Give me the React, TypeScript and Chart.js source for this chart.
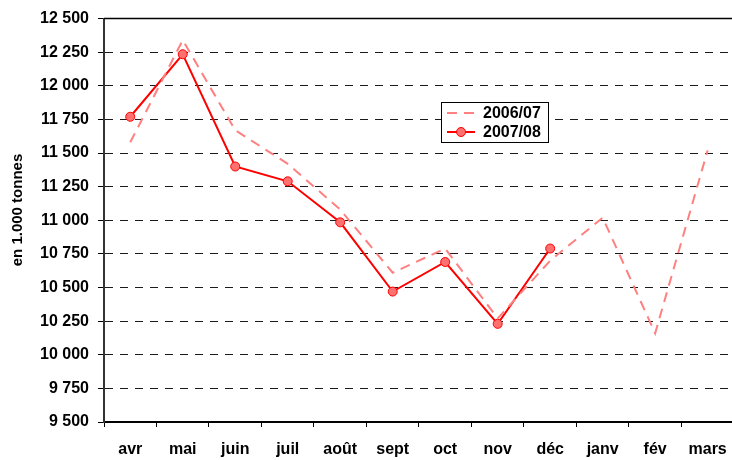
import React, { useEffect, useRef } from 'react';
import { Chart, registerables } from 'chart.js';

Chart.register(...registerables);

const months = ['avr', 'mai', 'juin', 'juil', 'août', 'sept', 'oct', 'nov', 'déc', 'janv', 'fév', 'mars'];
const series0607 = [11580, 12340, 11670, 11420, 11080, 10610, 10790, 10270, 10700, 11020, 10160, 11520];
const series0708 = [11770, 12235, 11400, 11290, 10985, 10470, 10690, 10230, 10790, null, null, null];
const seriesNames = ['2006/07', '2007/08'];
const axisTitle = 'en 1.000 tonnes';
const yMin = 9500;
const yMax = 12500;
const yStep = 250;

const FONT = '"Liberation Sans", Arial, Helvetica, sans-serif';

function fmt(v: number): string {
  return String(Math.round(v)).replace(/\B(?=(\d{3})+(?!\d))/g, ' ');
}

const decorPlugin = {
  id: 'decor',
  afterDraw(chart: any) {
    const { ctx, chartArea } = chart;
    ctx.save();
    // top border of plot area
    ctx.strokeStyle = '#000';
    ctx.lineWidth = 1.5;
    ctx.beginPath();
    ctx.moveTo(chartArea.left, chartArea.top);
    ctx.lineTo(chartArea.right, chartArea.top);
    ctx.stroke();

    // axis title
    ctx.save();
    ctx.translate(18, 210);
    ctx.rotate(-Math.PI / 2);
    ctx.font = `bold 15px ${FONT}`;
    ctx.fillStyle = '#000';
    ctx.textAlign = 'center';
    ctx.textBaseline = 'middle';
    ctx.fillText(axisTitle, 0, 0);
    ctx.restore();

    // legend
    const bx = 441, by = 102, bw = 107, bh = 40;
    ctx.fillStyle = '#fff';
    ctx.fillRect(bx, by, bw, bh);
    ctx.strokeStyle = '#000';
    ctx.lineWidth = 1;
    ctx.strokeRect(bx + 0.5, by + 0.5, bw, bh);
    const ds = chart.data.datasets;
    const rows = [113, 132];
    ds.forEach((d: any, i: number) => {
      const y = rows[i];
      ctx.save();
      ctx.strokeStyle = d.borderColor;
      ctx.lineWidth = d.borderWidth;
      ctx.setLineDash(d.borderDash || []);
      ctx.beginPath();
      ctx.moveTo(447, y);
      ctx.lineTo(475, y);
      ctx.stroke();
      ctx.setLineDash([]);
      if (d.pointRadius > 0) {
        ctx.beginPath();
        ctx.arc(461, y, d.pointRadius, 0, Math.PI * 2);
        ctx.fillStyle = d.pointBackgroundColor;
        ctx.fill();
        ctx.lineWidth = d.pointBorderWidth;
        ctx.strokeStyle = d.pointBorderColor;
        ctx.stroke();
      }
      ctx.restore();
      ctx.font = `bold 16px ${FONT}`;
      ctx.fillStyle = '#000';
      ctx.textAlign = 'left';
      ctx.textBaseline = 'middle';
      ctx.fillText(d.label, 483, y + 1);
    });
    ctx.restore();
  },
};

export default function App() {
  const ref = useRef<HTMLCanvasElement | null>(null);

  useEffect(() => {
    if (!ref.current) return;
    const chart = new Chart(ref.current, {
      type: 'line',
      data: {
        labels: months,
        datasets: [
          {
            label: seriesNames[0],
            data: series0607,
            borderColor: '#FF8080',
            backgroundColor: '#FF8080',
            borderWidth: 2,
            borderDash: [10, 7],
            pointRadius: 0,
            pointHoverRadius: 0,
            tension: 0,
            fill: false,
          },
          {
            label: seriesNames[1],
            data: series0708,
            borderColor: '#FF0000',
            backgroundColor: '#FF7070',
            borderWidth: 2,
            pointRadius: 4.5,
            pointBackgroundColor: '#FF7070',
            pointBorderColor: '#FF0000',
            pointBorderWidth: 1,
            tension: 0,
            fill: false,
            spanGaps: false,
          },
        ],
      },
      options: {
        responsive: false,
        animation: false,
        devicePixelRatio: 1,
        layout: { padding: { top: 16, right: 1, left: 0, bottom: 0 } },
        plugins: {
          legend: { display: false },
          tooltip: { enabled: false },
        },
        scales: {
          x: {
            type: 'category',
            offset: true,
            grid: {
              display: true,
              drawOnChartArea: false,
              drawTicks: true,
              tickLength: 5,
              offset: true,
              color: '#000',
            },
            border: { display: true, color: '#000', width: 2 },
            ticks: {
              color: '#000',
              padding: 13,
              maxRotation: 0,
              autoSkip: false,
              font: { family: FONT, size: 16, weight: 'bold' },
            },
            afterFit: (scale: any) => {
              scale.height = 38;
            },
          },
          y: {
            min: yMin,
            max: yMax,
            grid: {
              color: '#1a1a1a',
              lineWidth: 1,
              tickLength: 6,
              tickColor: '#000',
              tickBorderDash: [],
            },
            border: { display: true, color: '#333', width: 2, dash: [8, 7] },
            ticks: {
              stepSize: yStep,
              color: '#000',
              padding: 9,
              font: { family: FONT, size: 16, weight: 'bold' },
              callback: (v: any) => fmt(Number(v)),
            },
            afterFit: (scale: any) => {
              scale.width = 104;
            },
          },
        },
      },
      plugins: [decorPlugin],
    } as any);
    return () => chart.destroy();
  }, []);

  return (
    <div
      style={{
        position: 'fixed',
        left: 0,
        top: 0,
        width: 732,
        height: 460,
        overflow: 'hidden',
        background: '#fff',
      }}
    >
      <canvas ref={ref} width={740} height={460} style={{ display: 'block' }} />
    </div>
  );
}
